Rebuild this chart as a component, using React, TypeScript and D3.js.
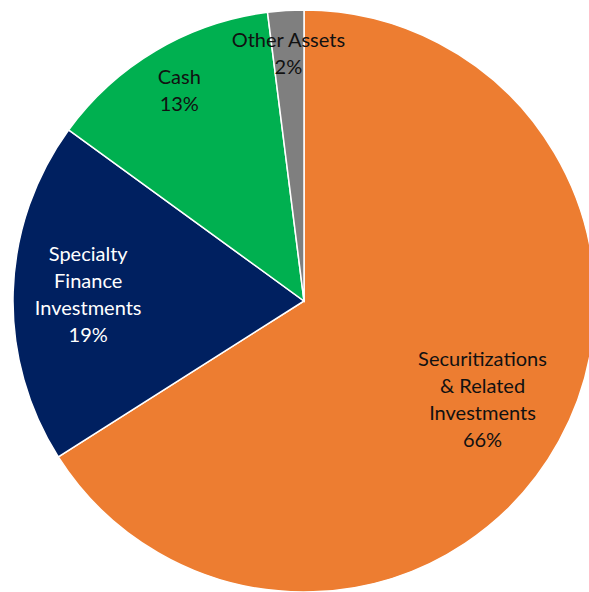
import { useEffect, useRef } from 'react';
import * as d3 from 'd3';

const categories = ['Securitizations & Related Investments', 'Specialty Finance Investments', 'Cash', 'Other Assets'];
const values = [66, 19, 13, 2];
const labelLines = [
  ['Securitizations', '& Related', 'Investments', '66%'],
  ['Specialty', 'Finance', 'Investments', '19%'],
  ['Cash', '13%'],
  ['Other Assets', '2%'],
];
const sliceColors = ['#ED7D31', '#002060', '#00B050', '#7F7F7F'];
const textColors = ['#111', '#fff', '#111', '#111'];

interface Slice {
  name: string;
  value: number;
  lines: string[];
  fill: string;
  text: string;
}

export default function App() {
  const svgRef = useRef<SVGSVGElement>(null);

  useEffect(() => {
    if (!svgRef.current) return;
    const width = 589;
    const height = 592;
    const cx = 304;
    const cy = 301;
    const radius = 291;

    const data: Slice[] = categories.map((name, i) => ({
      name,
      value: values[i],
      lines: labelLines[i],
      fill: sliceColors[i],
      text: textColors[i],
    }));

    d3.select(svgRef.current).selectAll('*').remove();
    const svg = d3.select(svgRef.current).attr('width', width).attr('height', height);
    const g = svg.append('g').attr('transform', `translate(${cx},${cy})`);

    const pie = d3.pie<Slice>().sort(null).value((d) => d.value);
    const arcs = pie(data);
    const arc = d3.arc<d3.PieArcDatum<Slice>>().innerRadius(0).outerRadius(radius);

    g.selectAll('path')
      .data(arcs)
      .join('path')
      .attr('d', arc)
      .attr('fill', (d) => d.data.fill)
      .attr('stroke', '#fff')
      .attr('stroke-width', 1.5);

    // label positions, as fraction of radius along slice mid-angle
    const labelRadius = [0.7, 0.742, 0.842, 0.853];
    const lineH = 27;
    arcs.forEach((a, i) => {
      const mid = (a.startAngle + a.endAngle) / 2;
      const r = radius * labelRadius[i];
      const x = Math.sin(mid) * r;
      const y = -Math.cos(mid) * r;
      const n = a.data.lines.length;
      const t = g
        .append('text')
        .attr('text-anchor', 'middle')
        .attr('font-family', 'Lato, sans-serif')
        .attr('font-size', 20)
        .attr('fill', a.data.text);
      a.data.lines.forEach((line, j) => {
        t.append('tspan')
          .attr('x', x)
          .attr('y', y + (j - (n - 1) / 2) * lineH + 7)
          .text(line);
      });
    });
  }, []);

  return (
    <svg
      ref={svgRef}
      style={{ position: 'absolute', left: 0, top: 0, display: 'block' }}
    />
  );
}
